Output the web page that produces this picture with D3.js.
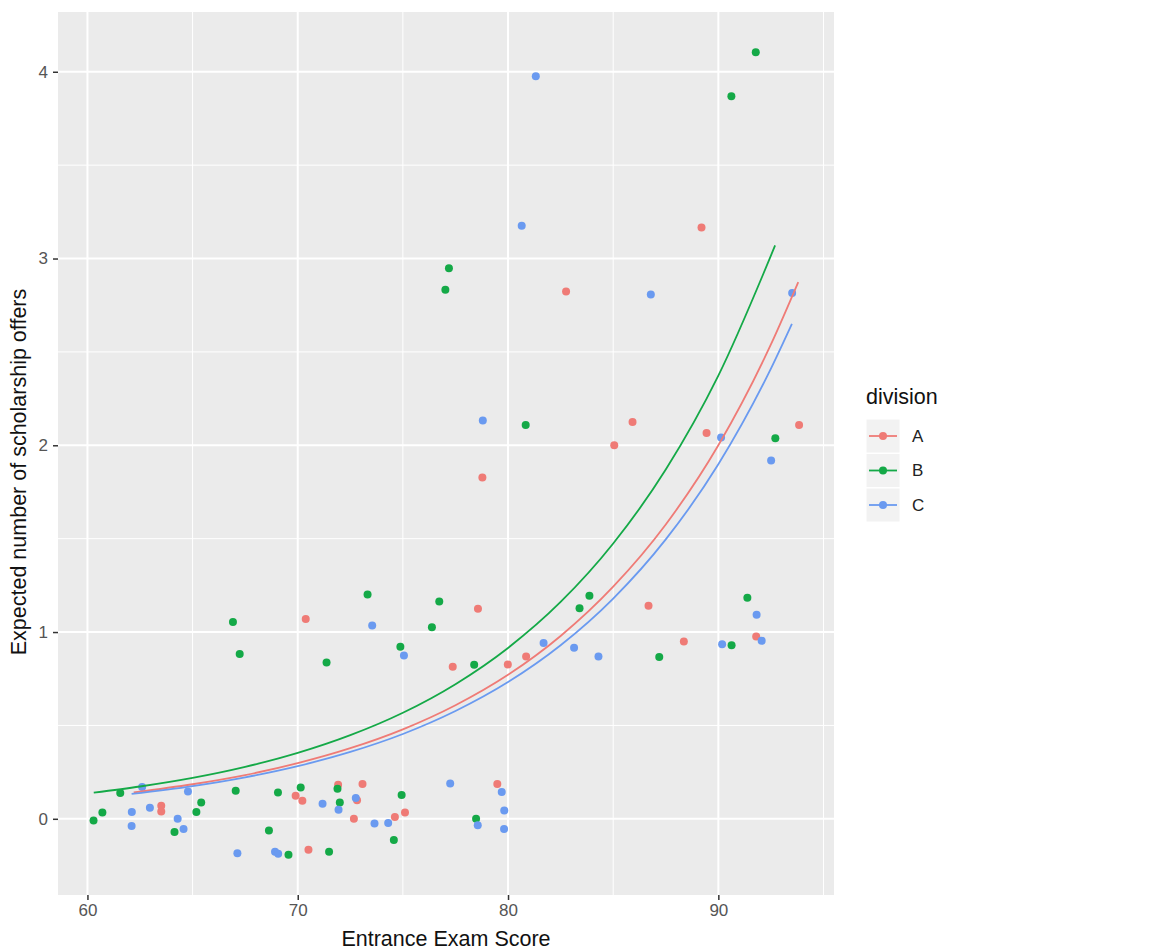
<!DOCTYPE html>
<html>
<head>
<meta charset="utf-8">
<script src="https://cdn.jsdelivr.net/npm/d3@7"></script>
<style>
  body { margin: 0; background: #fff; }
  text { font-family: "Liberation Sans", Arial, sans-serif; }
</style>
</head>
<body>
<script>
// Données
const divisions = ["A", "B", "C"];
const colors = ["#EF7B76", "#14A947", "#6A9AF0"];

const scoreA = [63.51, 63.51, 70.38, 69.90, 70.22, 71.92, 73.08, 72.82, 72.67, 70.51, 74.62, 75.10, 77.37, 78.57,
    78.78, 79.49, 79.99, 80.86, 82.76, 85.05, 85.92, 86.68, 88.36, 89.20, 89.44, 91.80, 93.84];
const offersA = [0.070, 0.039, 1.070, 0.123, 0.096, 0.182, 0.186, 0.100, 0.000, -0.166, 0.009, 0.034, 0.814, 1.125,
    1.828, 0.186, 0.826, 0.869, 2.824, 2.000, 2.125, 1.141, 0.949, 3.166, 2.066, 0.976, 2.109];

const scoreB = [60.29, 60.71, 61.56, 64.14, 65.18, 65.41, 66.92, 67.24, 67.05, 68.63, 69.06, 69.56, 70.14, 71.37,
    71.49, 71.89, 72.00, 73.32, 74.57, 74.94, 74.88, 76.38, 76.73, 77.02, 77.19, 78.39, 78.48, 80.84, 83.40,
    83.87, 87.19, 90.63, 90.62, 91.38, 91.78, 92.71];
const offersB = [-0.009, 0.034, 0.138, -0.070, 0.037, 0.087, 1.054, 0.882, 0.150, -0.063, 0.141, -0.193, 0.168, 0.837,
    -0.177, 0.161, 0.087, 1.201, -0.114, 0.127, 0.921, 1.025, 1.164, 2.833, 2.948, 0.825, 0.000, 2.109, 1.127,
    1.194, 0.867, 0.929, 3.869, 1.184, 4.104, 2.037];

const scoreC = [62.11, 62.10, 62.60, 62.97, 64.29, 64.57, 64.78, 67.13, 68.92, 69.07, 71.18, 71.94, 72.76, 73.54,
    73.65, 74.30, 75.05, 77.25, 78.56, 78.80, 79.70, 79.82, 79.81, 80.65, 81.32, 81.69, 83.14, 84.30, 86.79,
    90.13, 90.18, 91.82, 92.06, 92.51, 93.51];
const offersC = [0.037, -0.039, 0.170, 0.059, 0.000, -0.055, 0.146, -0.184, -0.177, -0.187, 0.080, 0.048, 0.111, 1.035,
    -0.025, -0.022, 0.875, 0.189, -0.034, 2.133, 0.143, 0.044, -0.055, 3.176, 3.976, 0.941, 0.916, 0.869, 2.808,
    2.042, 0.934, 1.093, 0.954, 1.919, 2.816];

// courbes ajustées
const fitXA = [62.2, 65, 67.5, 70, 72.5, 75, 77.5, 80, 82.5, 85, 87.5, 90, 92.5, 93.8];
const fitYA = [0.141, 0.185, 0.234, 0.298, 0.378, 0.479, 0.608, 0.771, 0.979, 1.243, 1.576, 2.000, 2.540, 2.874];
const fitXB = [60.3, 62.5, 65, 67.5, 70, 72.5, 75, 77.5, 80, 82.5, 85, 87.5, 90, 92.7];
const fitYB = [0.140, 0.173, 0.219, 0.278, 0.353, 0.448, 0.568, 0.721, 0.915, 1.161, 1.474, 1.870, 2.373, 3.070];
const fitXC = [62.1, 65, 67.5, 70, 72.5, 75, 77.5, 80, 82.5, 85, 87.5, 90, 92.5, 93.5];
const fitYC = [0.133, 0.175, 0.222, 0.282, 0.358, 0.454, 0.577, 0.732, 0.929, 1.179, 1.496, 1.898, 2.410, 2.650];

const xTicks = [60, 70, 80, 90];
const xMinor = [65, 75, 85, 95];
const yTicks = [0, 1, 2, 3, 4];
const yMinor = [0.5, 1.5, 2.5, 3.5];

const points = [];
[[scoreA, offersA], [scoreB, offersB], [scoreC, offersC]].forEach((s, k) => {
    s[0].forEach((v, i) => points.push({ division: divisions[k], score: v, offers: s[1][i] }));
});
const fits = [[fitXA, fitYA], [fitXB, fitYB], [fitXC, fitYC]].map((f, k) => ({
    division: divisions[k],
    values: f[0].map((v, i) => ({ score: v, offers: f[1][i] }))
}));

const width = 1176;
const height = 952;
const panel = { left: 58, right: 834, top: 12, bottom: 895 };

const svg = d3.select("body")
    .append("svg")
    .attr("width", width)
    .attr("height", height);

const x = d3.scaleLinear()
    .domain([58.6, 95.5])
    .range([panel.left, panel.right]);

const y = d3.scaleLinear()
    .domain([-0.408, 4.32])
    .range([panel.bottom, panel.top]);

const color = d3.scaleOrdinal().domain(divisions).range(colors);

// fond du panneau
svg.append("rect")
    .attr("x", panel.left)
    .attr("y", panel.top)
    .attr("width", panel.right - panel.left)
    .attr("height", panel.bottom - panel.top)
    .attr("fill", "#EBEBEB");

const grid = svg.append("g");
grid.selectAll(".xminor").data(xMinor.filter(d => x(d) < panel.right)).enter().append("line")
    .attr("x1", d => x(d)).attr("x2", d => x(d))
    .attr("y1", panel.top).attr("y2", panel.bottom)
    .attr("stroke", "#fff").attr("stroke-width", 1);
grid.selectAll(".yminor").data(yMinor).enter().append("line")
    .attr("x1", panel.left).attr("x2", panel.right)
    .attr("y1", d => y(d)).attr("y2", d => y(d))
    .attr("stroke", "#fff").attr("stroke-width", 1);
grid.selectAll(".xmajor").data(xTicks).enter().append("line")
    .attr("x1", d => x(d)).attr("x2", d => x(d))
    .attr("y1", panel.top).attr("y2", panel.bottom)
    .attr("stroke", "#fff").attr("stroke-width", 2);
grid.selectAll(".ymajor").data(yTicks).enter().append("line")
    .attr("x1", panel.left).attr("x2", panel.right)
    .attr("y1", d => y(d)).attr("y2", d => y(d))
    .attr("stroke", "#fff").attr("stroke-width", 2);

// axes
const xAxis = svg.append("g")
    .attr("transform", "translate(0," + panel.bottom + ")")
    .call(d3.axisBottom(x).tickValues(xTicks).tickFormat(d3.format("d")).tickSize(5).tickPadding(4));
const yAxis = svg.append("g")
    .attr("transform", "translate(" + panel.left + ",0)")
    .call(d3.axisLeft(y).tickValues(yTicks).tickFormat(d3.format("d")).tickSize(5).tickPadding(5));
[xAxis, yAxis].forEach(a => {
    a.select(".domain").remove();
    a.selectAll("line").attr("stroke", "#333").attr("stroke-width", 1.5);
    a.selectAll("text").attr("fill", "#555").style("font-size", "17px")
        .style("font-family", "'Liberation Sans', Arial, sans-serif");
});

// points
svg.append("g")
    .selectAll("circle")
    .data(points)
    .enter()
    .append("circle")
    .attr("cx", d => x(d.score))
    .attr("cy", d => y(d.offers))
    .attr("r", 4)
    .attr("fill", d => color(d.division));

// courbes
const line = d3.line()
    .x(d => x(d.score))
    .y(d => y(d.offers))
    .curve(d3.curveMonotoneX);

svg.append("g")
    .selectAll("path")
    .data(fits)
    .enter()
    .append("path")
    .attr("d", d => line(d.values))
    .attr("fill", "none")
    .attr("stroke", d => color(d.division))
    .attr("stroke-width", 1.8);

// titres des axes
svg.append("text")
    .attr("x", (panel.left + panel.right) / 2)
    .attr("y", 946)
    .attr("text-anchor", "middle")
    .style("font-size", "21.5px")
    .attr("fill", "#111")
    .text("Entrance Exam Score");

svg.append("text")
    .attr("transform", "translate(26,472) rotate(-90)")
    .attr("text-anchor", "middle")
    .style("font-size", "21.5px")
    .attr("fill", "#111")
    .text("Expected number of scholarship offers");

// légende
const legend = svg.append("g").attr("transform", "translate(866,0)");
legend.append("text")
    .attr("x", 0)
    .attr("y", 404)
    .style("font-size", "21.5px")
    .attr("fill", "#111")
    .text("division");

const keys = legend.selectAll(".key")
    .data(divisions)
    .enter()
    .append("g")
    .attr("transform", (d, i) => "translate(0," + (419 + i * 34.5) + ")");
keys.append("rect")
    .attr("width", 34).attr("height", 34)
    .attr("fill", "#F2F2F2").attr("stroke", "#fff").attr("stroke-width", 1);
keys.append("line")
    .attr("x1", 3).attr("x2", 31).attr("y1", 17).attr("y2", 17)
    .attr("stroke", d => color(d)).attr("stroke-width", 1.8);
keys.append("circle")
    .attr("cx", 17).attr("cy", 17).attr("r", 4)
    .attr("fill", d => color(d));
keys.append("text")
    .attr("x", 46).attr("y", 17).attr("dy", "0.35em")
    .style("font-size", "17px")
    .attr("fill", "#222")
    .text(d => d);
</script>
</body>
</html>
